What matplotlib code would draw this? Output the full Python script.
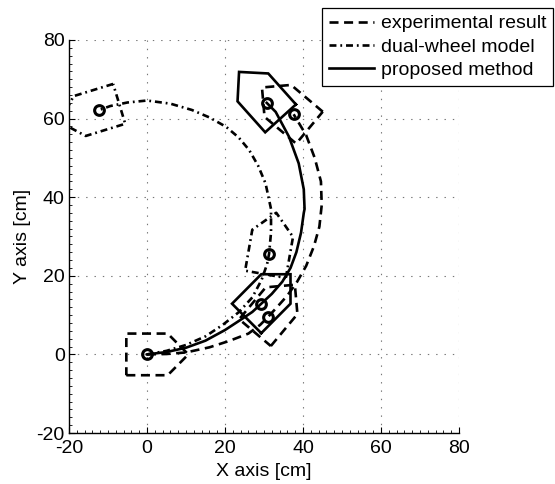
import numpy as np
import matplotlib
matplotlib.use('Agg')
import matplotlib.pyplot as plt
from matplotlib.ticker import MultipleLocator

plt.rcParams['font.family'] = ['Liberation Sans', 'DejaVu Sans']
plt.rcParams['lines.scale_dashes'] = False
plt.rcParams['axes.unicode_minus'] = False

# ---------------- data ----------------
labels = ['experimental result', 'dual-wheel model', 'proposed method']

# trajectories [cm]
exp_x = [0, 5, 10, 16, 21, 26, 29, 31.1, 33.5, 36, 38.5, 40.8, 42.8, 44.2, 44.8, 44.6, 43.0, 40.8, 37.6]
exp_y = [0, 0.1, 0.5, 1.8, 3.4, 5.3, 7.5, 9.6, 12.2, 15, 18.5, 22.5, 27.5, 32.5, 38, 44, 50, 55.8, 61.1]

dual_x = [0, 5, 10, 15, 19.4, 23.6, 27, 29.4, 30.8, 31.3, 31.8, 31.8, 30.4, 28.5, 26.2, 23.5, 20.3, 16, 11.5, 6, 0, -5, -9.4, -12.2]
dual_y = [0, 0.9, 2.4, 4.6, 7.5, 10.8, 14.5, 19, 23, 25.6, 31, 37, 43.5, 48, 52, 55.2, 57.9, 60.3, 62.2, 63.8, 64.6, 64.1, 63.2, 62.2]

prop_x = [0, 5, 10, 15, 20, 24, 27, 29.3, 32, 34.7, 36.8, 38.3, 39.5, 40.2, 40.4, 40.2, 38.9, 36.4, 33.0, 30.7]
prop_y = [0, 0.6, 1.7, 3.5, 6.2, 8.8, 10.8, 12.9, 15.4, 18.5, 22, 26, 31, 36, 37, 42, 48.6, 55.4, 61.7, 64.0]

# robot poses: centre x, centre y, heading [deg]
exp_pose_x = [0, 31.1, 37.6]
exp_pose_y = [0, 9.6, 61.1]
exp_pose_h = [0, 50, 140]

dual_pose_x = [31.3, -12.2]
dual_pose_y = [25.6, 62.2]
dual_pose_h = [80, 197]

prop_pose_x = [29.3, 30.7]
prop_pose_y = [12.9, 64.0]
prop_pose_h = [45, 132]

# robot body outline in its own frame [cm]
body_x = [-5.3, 5.3, 10.6, 5.3, -5.3, -5.3]
body_y = [-5.3, -5.3, 0, 5.3, 5.3, -5.3]

x_ticks = [-20, 0, 20, 40, 60, 80]
y_ticks = [-20, 0, 20, 40, 60, 80]

# ---------------- styles ----------------
LW = 1.9
DASH = (0, (6.5, 4.0))
DASHDOT = (0, (5.0, 2.8, 1.3, 2.8))
SOLID = '-'

fig = plt.figure(figsize=(5.55, 4.84), dpi=100)
ax = fig.add_axes([69 / 555, 1 - 433 / 484, 390 / 555, 393 / 484])


def draw_robots(px, py, ph, ls):
    bx = np.array(body_x)
    by = np.array(body_y)
    for cx, cy, h in zip(px, py, ph):
        t = np.deg2rad(h)
        rx = cx + bx * np.cos(t) - by * np.sin(t)
        ry = cy + bx * np.sin(t) + by * np.cos(t)
        ax.plot(rx, ry, color='black', lw=LW, linestyle=ls,
                solid_joinstyle='miter', dash_capstyle='butt')
        ax.plot([cx], [cy], marker='o', ms=7, mfc='none', mec='black', mew=2.2,
                linestyle='none')


l1, = ax.plot(exp_x, exp_y, color='black', lw=LW, linestyle=DASH, dash_capstyle='butt')
l2, = ax.plot(dual_x, dual_y, color='black', lw=LW, linestyle=DASHDOT, dash_capstyle='butt')
l3, = ax.plot(prop_x, prop_y, color='black', lw=LW, linestyle=SOLID)

draw_robots(exp_pose_x, exp_pose_y, exp_pose_h, DASH)
draw_robots(dual_pose_x, dual_pose_y, dual_pose_h, DASHDOT)
draw_robots(prop_pose_x, prop_pose_y, prop_pose_h, SOLID)

ax.set_xlim(-20, 80)
ax.set_ylim(-20, 80)
ax.set_xticks(x_ticks)
ax.set_yticks(y_ticks)
ax.xaxis.set_minor_locator(MultipleLocator(2))
ax.yaxis.set_minor_locator(MultipleLocator(2))
ax.tick_params(which='both', direction='in', labelsize=14, top=False, right=False)
ax.tick_params(which='major', length=4, width=0.8)
ax.tick_params(which='minor', length=2, width=0.6)
ax.tick_params(axis='x', pad=5)
ax.tick_params(axis='y', pad=3)
for s in ['top', 'right']:
    ax.spines[s].set_visible(False)
for s in ['left', 'bottom']:
    ax.spines[s].set_linewidth(1.0)

ax.grid(True, which='major', color='#777777', linestyle=(0, (1, 5)), linewidth=0.8)
ax.set_axisbelow(True)

ax.set_xlabel('X axis [cm]', fontsize=14, labelpad=4)
ax.set_ylabel('Y axis [cm]', fontsize=14, labelpad=4)

leg = ax.legend([l1, l2, l3], labels, loc='upper right',
                bbox_to_anchor=(553 / 555, 1 - 8 / 484), bbox_transform=fig.transFigure,
                fontsize=14, frameon=True, fancybox=False, framealpha=1,
                edgecolor='black', borderpad=0.35, handlelength=2.3,
                handletextpad=0.35, labelspacing=0.3, borderaxespad=0)
leg.get_frame().set_linewidth(0.9)

fig.savefig('out.png', dpi=100)
